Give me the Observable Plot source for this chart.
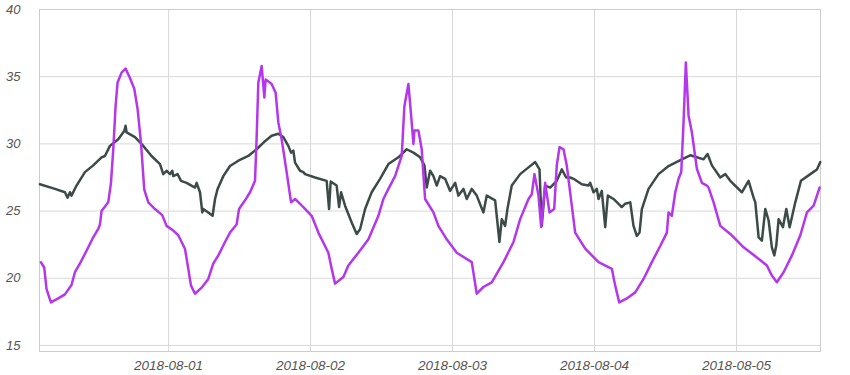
<!DOCTYPE html>
<html>
<head>
<meta charset="utf-8">
<script src="https://cdn.jsdelivr.net/npm/d3@7"></script>
<script src="https://cdn.jsdelivr.net/npm/@observablehq/plot@0.6"></script>
<style>
  html, body { margin: 0; padding: 0; background: #fff; }
  #chart svg { display: block; }
</style>
</head>
<body>
<div id="chart"></div>
<script>
// Hours since 2018-07-31 00:00 (UTC) and readings for each series
const outdoorHours = [2.42,2.98,3.37,4.11,5.35,6.48,7.59,8.17,9.02,10.13,11.26,12.11,12.40,12.67,13.80,14.26,14.65,15.04,15.37,16.05,16.73,17.47,18.20,18.76,19.33,19.89,20.57,21.70,22.93,23.66,24.79,25.64,26.77,27.33,27.79,28.47,29.58,30.71,31.56,32.41,33.54,34.38,35.50,35.91,36.92,37.77,38.61,38.88,39.17,39.73,40.19,40.41,41.42,42.10,42.55,43.11,43.96,44.70,45.38,46.78,48.19,49.32,51.01,51.57,52.14,53.55,54.39,56.08,57.78,59.47,60.31,61.16,62.29,63.41,63.86,64.54,65.00,65.39,65.56,66.23,66.79,67.36,68.77,69.61,71.02,72.71,75.25,76.09,77.22,78.63,80.61,82.30,83.43,84.84,85.39,85.85,86.53,86.98,87.66,88.39,89.18,89.62,90.08,90.76,91.31,92.16,92.73,94.43,96.68,98.93,99.50,100.18,101.46,102.88,104.29,105.69,107.11,108.23,108.51,109.07,109.65,110.21,110.66,111.05,111.44,111.90,112.46,113.30,114.15,114.99,115.28,116.13,117.26,118.95,121.20,123.45,125.14,125.98,126.83,127.96,129.37,130.79,131.91,133.04,134.05];
const outdoorTemps = [21.19,20.8,19.2,18.2,18.5,18.8,19.5,20.45,21.1,22.05,23.05,23.67,24.0,25.0,25.65,27.1,29.6,32.8,34.55,35.3,35.6,34.9,34.1,32.6,30.1,26.6,25.65,25.15,24.7,23.9,23.55,23.2,22.2,20.7,19.45,18.85,19.3,19.95,21.1,21.7,22.7,23.4,24.0,25.15,25.8,26.4,27.25,30.4,34.55,35.8,33.45,34.8,34.45,33.8,31.6,30.35,27.9,25.65,25.9,25.3,24.65,23.4,21.9,20.7,19.6,20.1,20.95,21.9,22.9,24.65,25.9,26.65,27.6,29.1,32.8,34.45,32.1,30.0,31.0,31.0,29.6,25.9,24.9,23.9,22.9,21.9,21.2,18.85,19.35,19.7,21.2,22.7,24.4,25.9,26.25,27.75,26.15,23.8,27.1,24.9,25.15,28.4,29.75,29.6,28.4,25.4,23.4,22.2,21.2,20.7,19.45,18.2,18.5,18.95,19.95,21.2,22.4,23.4,24.9,24.65,26.4,27.4,27.9,31.6,36.05,32.1,30.85,28.15,27.1,26.9,26.75,25.65,23.9,23.3,22.3,21.55,20.95,20.2,19.7,20.45,21.7,23.2,24.9,25.4,26.75];

const indoorHours = [2.25,4.79,6.48,6.92,7.32,7.59,8.44,9.86,11.26,12.67,13.24,14.09,15.49,16.51,16.73,16.90,18.32,19.43,21.12,22.55,23.10,23.66,24.24,24.63,24.79,25.52,26.10,27.04,28.47,28.74,29.31,29.70,29.87,30.71,31.44,31.85,32.29,33.25,34.38,35.79,37.48,38.88,40.30,41.42,42.55,43.40,44.24,44.70,45.09,45.38,46.22,46.78,47.07,48.76,50.72,51.13,51.40,52.41,52.82,53.16,53.83,54.95,55.80,56.37,57.22,58.33,59.75,61.16,62.85,64.25,65.39,66.52,67.25,67.64,68.21,68.77,69.33,69.90,70.75,71.59,72.44,73.00,73.84,74.40,75.25,76.09,77.22,77.78,79.20,79.93,80.32,80.89,81.28,82.01,83.43,84.84,85.97,86.70,87.08,87.66,88.51,89.62,90.47,91.21,91.89,92.45,93.85,94.98,95.27,95.83,96.39,96.68,97.23,97.81,98.25,99.21,100.61,101.19,102.04,102.59,103.15,103.61,104.00,105.13,106.82,108.51,110.76,112.18,113.30,114.43,115.11,115.84,117.26,118.10,118.95,120.91,122.04,122.89,123.18,123.74,124.29,124.87,125.43,125.98,126.39,126.73,127.12,127.85,128.42,128.98,129.94,130.89,132.48,133.60,134.17];
const indoorTemps = [27.0,26.65,26.4,26.0,26.4,26.15,26.9,27.9,28.4,29.0,29.1,29.85,30.35,30.95,31.35,30.85,30.5,30.0,29.1,28.5,27.75,28.0,27.75,28.0,27.6,27.75,27.25,27.1,26.75,27.1,26.4,24.9,25.15,24.9,24.65,25.9,26.65,27.6,28.35,28.75,29.1,29.6,30.2,30.6,30.75,30.5,29.85,29.35,29.5,28.6,28.0,27.9,27.75,27.5,27.25,25.15,27.2,26.9,25.3,26.4,25.4,24.15,23.3,23.65,25.15,26.4,27.4,28.5,29.0,29.6,29.35,29.0,28.4,26.75,28.0,27.6,26.9,27.6,27.4,26.5,27.1,26.15,26.65,25.9,26.65,26.15,24.9,26.15,25.8,22.7,24.4,23.9,25.15,26.9,27.75,28.25,28.65,28.1,23.9,26.9,26.75,27.25,28.1,27.5,27.5,27.4,27.0,26.9,27.1,26.4,26.65,25.9,26.5,23.8,26.15,25.9,25.3,25.55,25.65,23.9,23.15,23.4,25.15,26.65,27.75,28.35,28.85,29.15,29.0,28.85,29.25,28.4,27.5,27.75,27.25,26.4,27.25,26.0,25.65,23.05,22.8,25.15,24.3,22.3,21.7,22.45,24.4,23.8,25.15,23.8,25.65,27.25,27.75,28.1,28.65];

const xTicks = ["2018-08-01","2018-08-02","2018-08-03","2018-08-04","2018-08-05"];
const yTicks = [15,20,25,30,35,40];

const t0 = Date.UTC(2018, 6, 31);
const toDate = h => new Date(t0 + h * 3600000);
const outdoor = outdoorHours.map((h, i) => ({date: toDate(h), value: outdoorTemps[i]}));
const indoor = indoorHours.map((h, i) => ({date: toDate(h), value: indoorTemps[i]}));

const chart = Plot.plot({
  width: 850,
  height: 375,
  marginLeft: 39,
  marginRight: 30,
  marginTop: 9,
  marginBottom: 24,
  style: {fontFamily: "'Liberation Sans', Arial, sans-serif", fontSize: "13px", fontStyle: "italic", color: "#555", background: "#fff"},
  x: {type: "utc", domain: [toDate(2.18), toDate(134.2)]},
  y: {domain: [14.55, 40]},
  marks: [
    Plot.gridX(xTicks.map(d => new Date(d + "T00:00Z")), {stroke: "#d8d8d8", strokeOpacity: 1}),
    Plot.gridY(yTicks, {stroke: "#d8d8d8", strokeOpacity: 1}),
    Plot.frame({stroke: "#cccccc"}),
    Plot.axisX(xTicks.map(d => new Date(d + "T00:00Z")), {tickSize: 0, tickPadding: 9, tickFormat: d3.utcFormat("%Y-%m-%d"), fontStyle: "italic", fontSize: 13.5, fill: "#555", label: null}),
    Plot.axisY(yTicks, {tickSize: 0, tickPadding: 19, fontStyle: "italic", fontSize: 13, fill: "#555", label: null}),
    Plot.line(indoor, {x: "date", y: "value", stroke: "#3b4b48", strokeWidth: 2.5, curve: "linear"}),
    Plot.line(outdoor, {x: "date", y: "value", stroke: "#b437ec", strokeWidth: 2.5, curve: "linear"})
  ]
});
document.getElementById("chart").appendChild(chart);
</script>
</body>
</html>
